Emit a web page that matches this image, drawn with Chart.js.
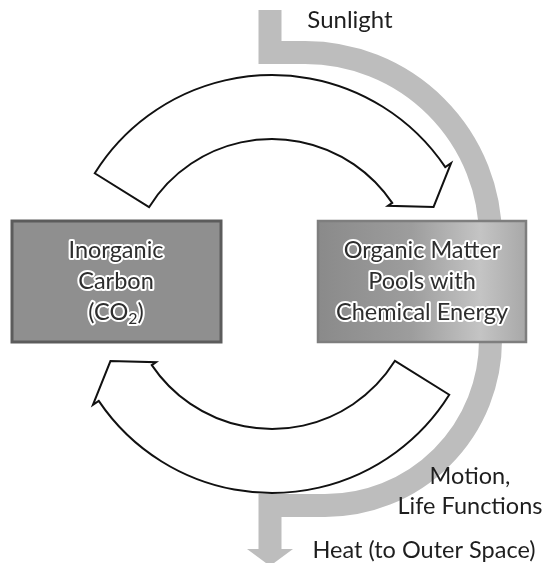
<!DOCTYPE html>
<html>
<head>
<meta charset="utf-8">
<script src="https://cdn.jsdelivr.net/npm/chart.js@4"></script>
<style>
  html, body { margin: 0; padding: 0; background: #fff; }
  #wrap { width: 545px; height: 563px; }
</style>
</head>
<body>
<div id="wrap"><canvas id="cycle" width="545" height="563"></canvas></div>
<script>
// labels of the diagram ("_2_" marks a subscript)
const poolLabels = [
  ["Inorganic", "Carbon", "(CO_2_)"],
  ["Organic Matter", "Pools with", "Chemical Energy"]
];
const energyInLabels = ["Sunlight"];
const workLabels = ["Motion,", "Life Functions"];
const energyOutLabels = ["Heat (to Outer Space)"];

// geometry of the drawing, in axis units (x 0..545, y 0..563 downwards)
const geo = {
  band: { width: 23, x: 270, top: 10, y1: 52.5, c1: [305, 238], r1: 185.5, c2: [325, 340], r2: 165.5, y2: 505.5, shaftEnd: 549, head: [247, 293, 566] },
  cycle: { c: [272, 284], ro: 209, ri: 145, tips: [[-148, -34, -25.5], [32, 146, 154.5]] },
  boxes: [[12, 221, 221, 342], [318, 221, 526, 342]],
  poolText: { x: [116, 422], y: [250, 281, 312] }
};

const FONT = "Lato, 'Noto Sans', sans-serif";

// draws text where "_x_" parts are subscripts
function drawRich(ctx, str, cx, cy, size, halo) {
  const parts = str.split("_");
  const fonts = parts.map((p, i) => (i % 2 ? Math.round(size * 0.7) : size) + "px " + FONT);
  let total = 0;
  parts.forEach((p, i) => { ctx.font = fonts[i]; total += ctx.measureText(p).width; });
  let x = cx - total / 2;
  parts.forEach((p, i) => {
    ctx.font = fonts[i];
    const yy = i % 2 ? cy + size * 0.28 : cy;
    if (halo) {
      ctx.lineWidth = 4;
      ctx.strokeStyle = "#fff";
      ctx.lineJoin = "round";
      ctx.strokeText(p, x, yy);
    }
    ctx.fillText(p, x, yy);
    x += ctx.measureText(p).width;
  });
}

const diagram = {
  id: "carbonDiagram",
  beforeDatasetsDraw(chart) {
    const { ctx, scales: { x, y } } = chart;
    const X = v => x.getPixelForValue(v);
    const Y = v => y.getPixelForValue(v);
    const R = v => X(v) - X(0);
    const deg = a => a * Math.PI / 180;

    ctx.save();

    // energy flow band (sunlight -> heat)
    const b = geo.band;
    ctx.strokeStyle = "#bdbdbd";
    ctx.fillStyle = "#bdbdbd";
    ctx.lineWidth = R(b.width);
    ctx.lineJoin = "miter";
    ctx.lineCap = "butt";
    ctx.beginPath();
    ctx.moveTo(X(b.x), Y(b.top));
    ctx.lineTo(X(b.x), Y(b.y1));
    ctx.lineTo(X(b.c1[0]), Y(b.y1));
    ctx.arc(X(b.c1[0]), Y(b.c1[1]), R(b.r1), -Math.PI / 2, 0);
    ctx.lineTo(X(b.c2[0] + b.r2), Y(b.c2[1]));
    ctx.arc(X(b.c2[0]), Y(b.c2[1]), R(b.r2), 0, Math.PI / 2);
    ctx.lineTo(X(b.x), Y(b.y2));
    ctx.lineTo(X(b.x), Y(b.shaftEnd));
    ctx.stroke();
    ctx.beginPath();
    ctx.moveTo(X(b.head[0]), Y(b.shaftEnd));
    ctx.lineTo(X(b.head[1]), Y(b.shaftEnd));
    ctx.lineTo(X(b.x), Y(b.head[2]));
    ctx.closePath();
    ctx.fill();

    // carbon cycle arrows
    const c = geo.cycle;
    const cx = X(c.c[0]), cy = Y(c.c[1]);
    const pt = (r, a) => [cx + R(r) * Math.cos(deg(a)), cy + R(r) * Math.sin(deg(a))];
    c.tips.forEach(([a0, a1, a2]) => {
      ctx.beginPath();
      ctx.arc(cx, cy, R(c.ro), deg(a0), deg(a1), false);
      ctx.lineTo(...pt(c.ro + 7, a1));
      ctx.lineTo(...pt((c.ro + c.ri) / 2 + 2, a2));
      ctx.lineTo(...pt(c.ri - 5, a1));
      ctx.lineTo(...pt(c.ri, a1));
      ctx.arc(cx, cy, R(c.ri), deg(a1), deg(a0), true);
      ctx.closePath();
      ctx.fillStyle = "#fff";
      ctx.fill();
      ctx.lineWidth = 2;
      ctx.lineJoin = "miter";
      ctx.strokeStyle = "#111";
      ctx.stroke();
    });

    // carbon pools
    geo.boxes.forEach(([x0, y0, x1, y1], i) => {
      const l = X(x0), t = Y(y0), w = X(x1) - l, h = Y(y1) - t;
      if (i === 0) {
        ctx.fillStyle = "#8f8f8f";
        ctx.strokeStyle = "#5c5c5c";
        ctx.lineWidth = 3;
      } else {
        const g = ctx.createLinearGradient(l, 0, l + w, 0);
        g.addColorStop(0, "#8a8a8a");
        g.addColorStop(0.45, "#9d9d9d");
        g.addColorStop(0.78, "#c4c4c4");
        g.addColorStop(1, "#a8a8a8");
        ctx.fillStyle = g;
        ctx.strokeStyle = "#7e7e7e";
        ctx.lineWidth = 2.5;
      }
      ctx.fillRect(l, t, w, h);
      ctx.strokeRect(l, t, w, h);
    });

    // pool texts
    ctx.textBaseline = "middle";
    ctx.textAlign = "left";
    poolLabels.forEach((lines, i) => {
      lines.forEach((s, j) => {
        ctx.fillStyle = "#2e2e2e";
        drawRich(ctx, s, X(geo.poolText.x[i]), Y(geo.poolText.y[j]), 23.5, true);
      });
    });

    // energy texts
    ctx.fillStyle = "#1e1e1e";
    energyInLabels.forEach((s, j) => drawRich(ctx, s, X(350), Y(20 + j * 30), 24, false));
    workLabels.forEach((s, j) => drawRich(ctx, s, X(470), Y(476 + j * 30), 23.5, false));
    energyOutLabels.forEach((s, j) => drawRich(ctx, s, X(424), Y(550 + j * 30), 23.5, false));

    ctx.restore();
  }
};

new Chart(document.getElementById("cycle"), {
  type: "scatter",
  data: { datasets: [] },
  options: {
    responsive: false,
    animation: false,
    layout: { padding: 0 },
    scales: {
      x: { type: "linear", min: 0, max: 545, display: false },
      y: { type: "linear", min: 0, max: 563, reverse: true, display: false }
    },
    plugins: { legend: { display: false }, tooltip: { enabled: false } }
  },
  plugins: [diagram]
});
</script>
</body>
</html>
